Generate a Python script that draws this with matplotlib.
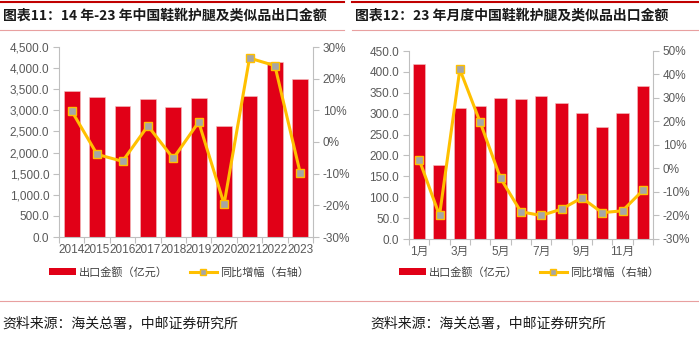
import numpy as np
import matplotlib
matplotlib.use("Agg")
import matplotlib.pyplot as plt
from matplotlib.lines import Line2D
from matplotlib.patches import Patch
from matplotlib.ticker import FuncFormatter, FixedLocator

plt.rcParams['font.family'] = ['Liberation Sans', 'Noto Sans CJK SC', 'DejaVu Sans']

# chart 11: yearly
years = ['2014', '2015', '2016', '2017', '2018', '2019', '2020', '2021', '2022', '2023']
year_export = [3450, 3316, 3110, 3268, 3087, 3292, 2637, 3339, 4137, 3742]
year_yoy = [9.8, -3.9, -6.1, 5.1, -5.2, 6.3, -19.6, 26.5, 24.1, -9.9]

# chart 12: monthly 2023
months = ['1月', '2月', '3月', '4月', '5月', '6月', '7月', '8月', '9月', '10月', '11月', '12月']
month_export = [419, 178, 313, 319, 338, 336, 342, 326, 301, 267, 301, 366]
month_yoy = [3.8, -20.0, 42.2, 19.7, -4.1, -18.4, -20.0, -17.3, -12.5, -18.8, -18.0, -9.3]

titles = ['图表11：14 年-23 年中国鞋靴护腿及类似品出口金额',
          '图表12：23 年月度中国鞋靴护腿及类似品出口金额']
source = '资料来源：海关总署，中邮证券研究所'
bar_label = '出口金额（亿元）'
line_label = '同比增幅（右轴）'

RED = '#E10017'
GOLD = '#FFC000'
GRAY_MK = '#A6A6A6'
TXT = '#595959'
AX = '#BFBFBF'
W, H = 699, 340

fig = plt.figure(figsize=(W / 100, H / 100), dpi=100)


def fx(px):
    return px / W


def fy(py):
    return 1 - py / H


def draw(rect, cats, vals, yoy, ylim, yticks, rlim, rticks, label_idx, bar_w):
    ax = fig.add_axes(rect)
    x = np.arange(len(cats))
    ax.bar(x, vals, width=bar_w, color=RED, edgecolor='#F4C2C2', linewidth=0.4, zorder=2)
    ax.set_xlim(-0.5, len(cats) - 0.5)
    ax.set_ylim(*ylim)
    ax.set_yticks(yticks)
    ax.yaxis.set_major_formatter(FuncFormatter(lambda v, p: f'{v:,.1f}'))
    ax.set_xticks(x[label_idx])
    ax.set_xticklabels([cats[i] for i in label_idx])
    ax.xaxis.set_minor_locator(FixedLocator(np.arange(-0.5, len(cats), 1.0)))
    ax.tick_params(axis='x', which='major', length=0, pad=5, labelsize=8.5, labelcolor=TXT)
    ax.tick_params(axis='x', which='minor', length=4, color=AX, width=0.8)
    ax.tick_params(axis='y', length=4, color=AX, width=0.8, labelsize=8.5, labelcolor=TXT, pad=3)
    for s in ['top', 'right']:
        ax.spines[s].set_visible(False)
    for s in ['left', 'bottom']:
        ax.spines[s].set_color(AX)
        ax.spines[s].set_linewidth(0.8)

    ax2 = ax.twinx()
    ax2.plot(x, yoy, color=GOLD, lw=2.2, marker='s', ms=6,
             mfc=GRAY_MK, mec=GOLD, mew=1.0, zorder=3)
    ax2.set_ylim(*rlim)
    ax2.set_yticks(rticks)
    ax2.yaxis.set_major_formatter(FuncFormatter(lambda v, p: f'{v:.0f}%'))
    ax2.tick_params(axis='y', length=4, color=AX, width=0.8, labelsize=8.5, labelcolor=TXT, pad=3)
    for s in ['top', 'left', 'bottom']:
        ax2.spines[s].set_visible(False)
    ax2.spines['right'].set_color(AX)
    ax2.spines['right'].set_linewidth(0.8)
    return ax


# left chart
draw([fx(59), fy(237), fx(313) - fx(59), fy(47) - fy(237)],
     years, year_export, year_yoy,
     (0, 4500), np.arange(0, 4501, 500), (-30, 30), np.arange(-30, 31, 10),
     list(range(len(years))), 0.62)

# right chart
draw([fx(409), fy(239), fx(653) - fx(409), fy(51) - fy(239)],
     months, month_export, month_yoy,
     (0, 450), np.arange(0, 451, 50), (-30, 50), np.arange(-30, 51, 10),
     list(range(0, 12, 2)), 0.6)

handles = [Patch(facecolor=RED, edgecolor='none'),
           Line2D([0], [0], color=GOLD, lw=2.2, marker='s', ms=5, mfc=GRAY_MK, mec=GOLD)]
for cx in [179, 529]:
    fig.legend(handles, [bar_label, line_label], loc='center',
               bbox_to_anchor=(fx(cx), fy(272)), ncol=2, frameon=False,
               fontsize=8, handlelength=2.4, handleheight=0.5,
               handletextpad=0.3, columnspacing=2.0, labelcolor='#404040')

# titles, rules and sources
for x0, x1, title in [(0, 344, titles[0]), (352, 699, titles[1])]:
    fig.add_artist(Line2D([fx(x0), fx(x1)], [fy(2), fy(2)], color='#C00000', lw=1.5))
    fig.add_artist(Line2D([fx(x0), fx(x1)], [fy(30), fy(30)], color='#E8A0A0', lw=0.8))
    fig.text(fx(x0 + 3), fy(16), title, fontsize=10, fontweight='bold',
             family=['Noto Sans CJK SC', 'DejaVu Sans'], va='center', ha='left', color='#1a1a1a')
    fig.text(fx(x0 + 2 if x0 == 0 else x0 + 18), fy(323), source, fontsize=10,
             family=['Noto Sans CJK SC', 'DejaVu Sans'], va='center', ha='left', color='#1a1a1a')

fig.add_artist(Line2D([0, 1], [fy(301), fy(301)], color='#E8A0A0', lw=0.8))

fig.savefig('out.png', dpi=100)
